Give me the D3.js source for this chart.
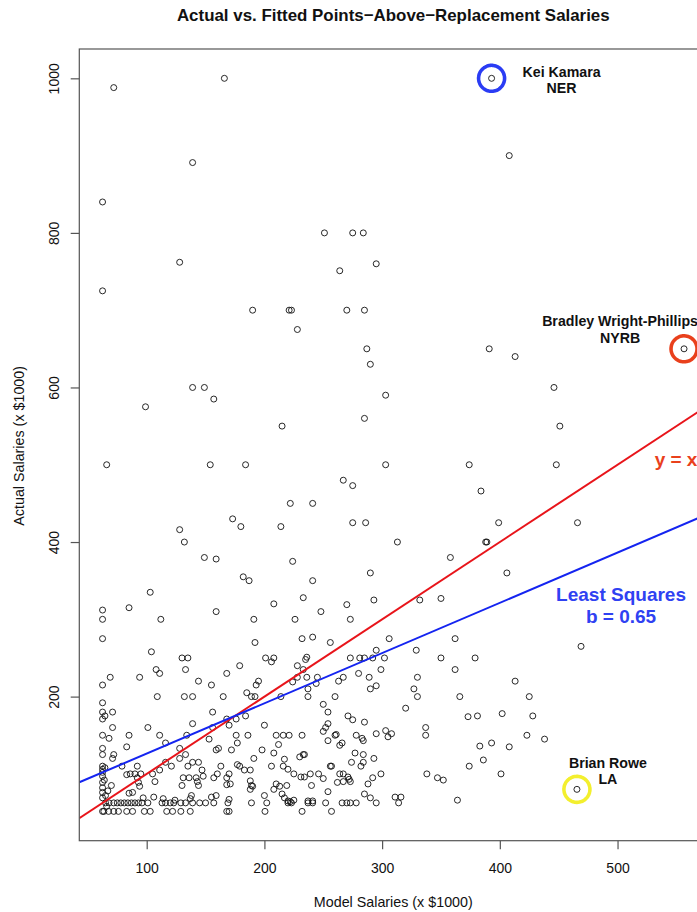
<!DOCTYPE html>
<html>
<head>
<meta charset="utf-8">
<script src="https://cdn.jsdelivr.net/npm/d3@7"></script>
<style>
  html, body { margin: 0; padding: 0; background: #fff; }
  svg { display: block; font-family: "Liberation Sans", Arial, Helvetica, sans-serif; }
</style>
</head>
<body>
<svg id="chart" width="697" height="912"></svg>
<script>
// Model (fitted) salary vs actual salary, both in thousands of dollars.
const modelSalary = [
  72, 166, 393, 408, 139, 62.5, 251, 275, 284, 128, 295, 264, 62.5, 190, 221, 223, 270, 285, 228, 287, 391, 556.5, 413, 290,
  139, 149, 446, 157, 303, 99, 285, 215, 451, 66, 154, 184, 303, 374, 448, 267, 275, 384, 222, 241,
  173, 180, 214, 275, 286, 399, 466, 128, 132, 313, 388, 389, 149, 159, 224, 358, 290, 406, 182, 187, 241,
  103, 233, 332, 350, 293, 85, 159, 208, 270, 248, 62.5, 62.5, 112, 191, 226, 273, 62.5, 192, 232, 241, 256, 306, 362, 469, 104,
  130, 135, 201, 208, 206, 236, 235, 273, 281, 285, 292, 302, 295, 329, 350, 379, 179, 228, 108, 111, 133, 168, 233, 280, 299, 362,
  69, 94, 62.5, 144, 155, 224, 228, 236, 245, 244, 237, 263, 267, 289, 290, 295, 330, 327, 413, 193, 195, 185, 189, 192, 109, 132, 139, 165, 214, 237, 260, 330, 366, 425,
  62.5, 62.5, 71, 64.5, 62.5, 250, 254, 156, 320, 373, 381, 402, 428, 271, 275, 285, 254, 168, 170, 176, 184, 139, 71, 101, 200, 156, 337,
  337, 62.5, 68, 85, 111, 134, 176, 186, 210, 216, 221, 232, 250, 252, 260, 261, 278, 283, 284, 295, 303, 305, 308, 254, 266, 264, 423, 438, 383, 393, 408, 116, 83, 153, 177, 212,
  62.5, 62.5, 72, 71, 128, 159, 161, 172, 198, 208, 277, 284, 133, 128, 191, 233, 234, 230, 217, 293, 386,
  374, 401, 338, 347, 352, 364, 62.5, 62.5, 62.5, 64.5, 79, 92, 116, 121, 111, 105, 135, 139, 144, 147, 163, 160, 170, 177, 179, 183, 188, 206, 216, 220, 225, 231, 234, 239, 246, 250, 256, 257, 264, 267, 271, 272, 274, 282, 284, 299, 292, 288,
  62.5, 62.5, 62.5, 62.5, 62.5, 83, 86, 90, 95, 92, 93, 94, 107, 130, 131, 136, 142, 148, 144, 143, 157, 168, 168, 171, 188, 189, 190, 188, 208, 210, 213, 219, 240, 254, 262, 267, 273,
  215, 217, 222, 225, 220, 285, 290, 311, 316, 159, 155, 138, 137, 114, 124, 106, 97, 85, 88, 170, 200, 241, 237, 65, 67, 70, 64, 66,
  65, 68, 72, 75, 78, 81, 84, 87, 90, 93, 96, 101, 113, 116, 120, 123, 129, 133, 139, 145, 150, 157, 169, 189, 202, 220, 223, 237, 241, 252, 266, 270, 273, 278, 295, 314,
  62.5, 63.6, 67.6, 72, 76, 83, 88, 98, 103, 117, 122, 129, 137, 168, 170, 200.5, 232, 257,
  465.5
];
const actualSalary = [
  988, 1000, 1000, 900, 891, 840, 800, 800, 800, 762, 760, 751, 725, 700, 700, 700, 700, 700, 675, 650, 650, 650, 640, 630,
  600, 600, 600, 585, 590, 575, 560, 550, 550, 500, 500, 500, 500, 500, 500, 480, 473, 466, 450, 450,
  430, 420, 420, 425, 425, 425, 425, 416, 400, 400, 400, 400, 380, 378, 375, 380, 360, 360, 355, 350, 350,
  335, 328, 325, 327, 325, 315, 310, 320, 319, 310, 312, 300, 300, 300, 300, 300, 275, 270, 275, 277, 270, 275, 275, 265, 258,
  250, 250, 250, 250, 245, 251, 248, 250, 250, 250, 250, 250, 260, 260, 250, 250, 240, 240, 235, 230, 235, 230, 235, 230, 235, 235,
  225, 225, 215, 220, 215, 219, 225, 225, 225, 217, 210, 220, 225, 225, 210, 214, 225, 210, 220, 215, 220, 205, 200, 200, 200, 200, 200, 200, 200, 200, 200, 200, 200, 200,
  192, 180, 180, 175, 171, 190, 180, 180, 185, 174, 175, 178, 175, 175, 170, 167, 165, 171, 163, 171, 175, 165, 160, 160, 163, 160, 160,
  150, 150, 146, 150, 150, 150, 150, 150, 150, 150, 150, 150, 155, 160, 150, 151, 150, 146, 143, 152, 156, 148, 152, 143, 140, 137, 150, 145, 136, 140, 135, 140, 135, 145, 140, 138,
  133, 125, 125, 120, 133, 131, 133, 131, 131, 127, 127, 125, 125, 120, 120, 125, 125, 122, 119, 120, 118,
  110, 100, 100, 95, 92, 66, 110, 106, 102, 108, 110, 110, 115, 110, 105, 100, 110, 115, 115, 105, 110, 100, 100, 112, 110, 105, 105, 110, 110, 106, 100, 96, 96, 100, 100, 94, 110, 110, 100, 100, 96, 93, 115, 110, 115, 100, 95, 87,
  97, 89, 82, 76, 69, 99, 100, 100, 100, 95, 89, 84, 90, 85, 95, 95, 95, 97, 85, 90, 95, 95, 86, 87, 91, 85, 84, 80, 80, 87, 84, 85, 85, 77, 89, 90, 90,
  74, 69, 64, 66, 65, 74, 69, 70, 70, 72, 70, 72, 68, 68, 66, 70, 69, 75, 76, 67, 72, 65, 65, 72, 78, 85, 92, 58,
  62.5, 62.5, 62.5, 62.5, 62.5, 62.5, 62.5, 62.5, 62.5, 62.5, 62.5, 62.5, 62.5, 62.5, 62.5, 62.5, 62.5, 62.5, 62.5, 62.5, 62.5, 62.5, 62.5, 62.5, 62.5, 62.5, 62.5, 62.5, 62.5, 62.5, 62.5, 62.5, 62.5, 62.5, 62.5, 62.5,
  51.5, 51.5, 51.5, 51.5, 51.5, 51.5, 51.5, 51.5, 51.5, 51.5, 51.5, 51.5, 51.5, 51.5, 51.5, 51.5, 51.5, 51.5,
  80
];

// Highlighted players
const starNames  = ["Kei Kamara", "Bradley Wright-Phillips", "Brian Rowe"];
const starTeams  = ["NER", "NYRB", "LA"];
const starModel  = [393, 556.5, 465.5];
const starActual = [1000, 650, 80];
const starColors = ["#2a3cf4", "#e9401c", "#f3ef2e"];

// Reference line y = x and least-squares fit
const lsIntercept = 61.3;
const lsSlope = 0.65;

const xTicks = [100, 200, 300, 400, 500];
const yTicks = [200, 400, 600, 800, 1000];

const svg = d3.select("#chart");
const box = { left: 79.3, right: 707.3, top: 49, bottom: 840.7 };

// R-style axis extents: data range padded by 4% on each side
function padded(vals) {
  const [a, b] = d3.extent(vals);
  const p = (b - a) * 0.04;
  return [a - p, b + p];
}
const x = d3.scaleLinear().domain(padded(modelSalary)).range([box.left, box.right]);
const y = d3.scaleLinear().domain(padded(actualSalary)).range([box.bottom, box.top]);

svg.append("defs").append("clipPath").attr("id", "plotClip")
  .append("rect")
  .attr("x", box.left).attr("y", box.top)
  .attr("width", box.right - box.left).attr("height", box.bottom - box.top);

// Points
const pts = d3.range(modelSalary.length).map(i => ({ m: modelSalary[i], a: actualSalary[i] }));
svg.append("g").selectAll("circle").data(pts).join("circle")
  .attr("cx", d => x(d.m)).attr("cy", d => y(d.a)).attr("r", 3)
  .attr("fill", "none").attr("stroke", "#111").attr("stroke-width", 0.9);

// Lines
const [x0, x1] = x.domain();
const lineGen = d3.line().x(d => x(d[0])).y(d => y(d[1]));
const lines = svg.append("g").attr("clip-path", "url(#plotClip)");
lines.append("path")
  .attr("d", lineGen([[x0, x0], [x1, x1]]))
  .attr("stroke", "#e8141a").attr("stroke-width", 2).attr("fill", "none");
lines.append("path")
  .attr("d", lineGen([[x0, lsIntercept + lsSlope * x0], [x1, lsIntercept + lsSlope * x1]]))
  .attr("stroke", "#1424f0").attr("stroke-width", 2).attr("fill", "none");

// Highlight rings
const stars = starNames.map((n, i) => ({ name: n, team: starTeams[i], m: starModel[i], a: starActual[i], c: starColors[i] }));
svg.append("g").selectAll("circle").data(stars).join("circle")
  .attr("cx", d => x(d.m)).attr("cy", d => y(d.a)).attr("r", 13)
  .attr("fill", "none").attr("stroke", d => d.c).attr("stroke-width", 3.6)
  .attr("stroke-dasharray", "2.4 0.9").attr("stroke-linecap", "round");

// Player labels (offset from the point, in pixels)
const labelOffset = [[70, -1.6], [-64, -22.6], [31, -21.7]];
const lab = svg.append("g").attr("font-weight", "bold").attr("font-size", 14.2)
  .attr("text-anchor", "middle").attr("fill", "#111");
stars.forEach((d, i) => {
  const lx = x(d.m) + labelOffset[i][0];
  const ly = y(d.a) + labelOffset[i][1];
  lab.append("text").attr("x", lx).attr("y", ly).text(d.name);
  lab.append("text").attr("x", lx).attr("y", ly + 16.7).text(d.team);
});

// Line annotations
svg.append("text").attr("x", x(549.7)).attr("y", y(498.4))
  .attr("text-anchor", "middle").attr("font-weight", "bold").attr("font-size", 19)
  .attr("fill", "#e9401c").text("y = x");
const ls = svg.append("g").attr("text-anchor", "middle").attr("font-weight", "bold")
  .attr("font-size", 19).attr("fill", "#2f41f2");
ls.append("text").attr("x", x(503)).attr("y", y(324.1)).text("Least Squares");
ls.append("text").attr("x", x(503)).attr("y", y(324.1) + 22.6).text("b = " + lsSlope.toFixed(2));

// Plot frame
svg.append("rect")
  .attr("x", box.left).attr("y", box.top)
  .attr("width", box.right - box.left).attr("height", box.bottom - box.top)
  .attr("fill", "none").attr("stroke", "#555").attr("stroke-width", 1.2);

// Axes
const gx = svg.append("g").attr("transform", `translate(0,${box.bottom})`)
  .call(d3.axisBottom(x).tickValues(xTicks).tickSize(8.6).tickPadding(14).tickFormat(d3.format("d")));
gx.select(".domain").remove();
gx.selectAll("line").attr("stroke", "#555").attr("stroke-width", 1.2);
gx.selectAll("text").attr("font-size", 14).attr("fill", "#111").attr("font-family", null);

const gy = svg.append("g").attr("transform", `translate(${box.left},0)`)
  .call(d3.axisLeft(y).tickValues(yTicks).tickSize(8.6).tickFormat(d3.format("d")));
gy.select(".domain").remove();
gy.selectAll("line").attr("stroke", "#555").attr("stroke-width", 1.2);
gy.selectAll("text")
  .attr("x", null).attr("dy", null)
  .attr("transform", "translate(-20.8,0) rotate(-90)")
  .attr("text-anchor", "middle")
  .attr("font-size", 14).attr("fill", "#111").attr("font-family", null);

// Titles
svg.append("text").attr("x", (box.left + box.right) / 2).attr("y", 21)
  .attr("text-anchor", "middle").attr("font-weight", "bold").attr("font-size", 16.9)
  .attr("fill", "#111").text("Actual vs. Fitted Points\u2212Above\u2212Replacement Salaries");
svg.append("text").attr("x", (box.left + box.right) / 2).attr("y", 906.7)
  .attr("text-anchor", "middle").attr("font-size", 14.3).attr("fill", "#111")
  .text("Model Salaries (x $1000)");
svg.append("text")
  .attr("transform", `translate(23.5,${(box.top + box.bottom) / 2 + 1}) rotate(-90)`)
  .attr("text-anchor", "middle").attr("font-size", 14.3).attr("fill", "#111")
  .text("Actual Salaries (x $1000)");
</script>
</body>
</html>
